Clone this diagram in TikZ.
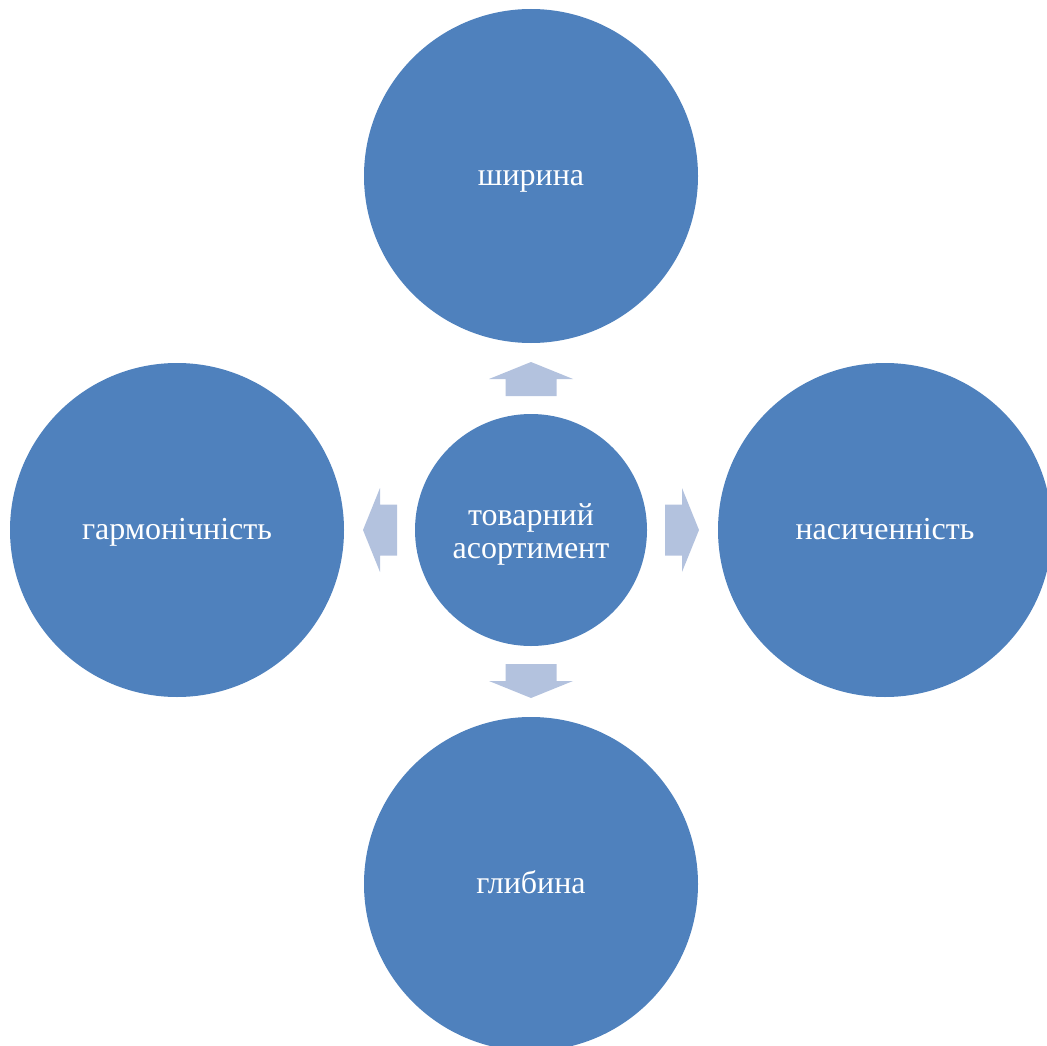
\documentclass[tikz,border=0pt]{standalone}
\usepackage{fontspec}
\setmainfont{Liberation Serif}
\usepackage{tikz}
\usetikzlibrary{positioning,calc}
\definecolor{figblue}{HTML}{4F81BD}
\definecolor{figpale}{HTML}{B3C2DE}

\begin{document}
\begin{tikzpicture}[x=1pt, y=-1pt,
  bubble/.style={circle, fill=figblue, draw=none, inner sep=0pt},
  outer/.style={bubble, minimum size=334pt},
  hubstyle/.style={bubble, minimum size=232pt},
  txt/.style={text=white, align=center, inner sep=0pt, yshift=-2pt,
              text height=22pt, text depth=7pt,
              font=\fontsize{32}{33}\selectfont},
  blockarrow/.style={fill=figpale, draw=none}]
\useasboundingbox (0,0) rectangle (1047,1046);
\node[hubstyle, label={[txt, yshift=-19pt]center:товарний\\асортимент}] (hub) at (531,530) {};
\node[outer,    label={[txt]center:ширина}]               (width) at (531,176) {};
\node[outer,    label={[txt]center:насиченність}]         (sat)   at (885,530) {};
\node[outer,    label={[txt]center:глибина}]              (depth) at (531,884) {};
\node[outer,    label={[txt]center:гармонічність}]        (harm)  at (177,530) {};
% block arrows from the hub
\foreach \a in {0,90,180,270}
  \fill[blockarrow, shift={(hub)}, rotate=\a]
    (134,-25.5) -- (151,-25.5) -- (151,-42) -- (168,0) -- (151,42) -- (151,25.5) -- (134,25.5) -- cycle;
\end{tikzpicture}
\end{document}
